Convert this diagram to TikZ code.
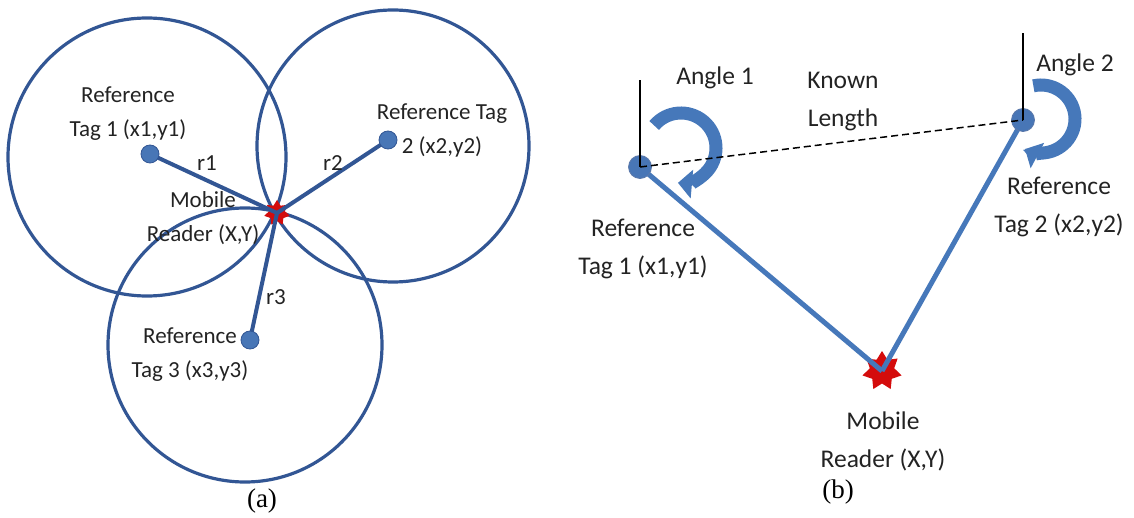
\documentclass[tikz,border=0pt]{standalone}
\usepackage{fontspec}
\setmainfont{Carlito}
\newfontfamily\capfont{Liberation Serif}
\usepackage{tikz}
\usetikzlibrary{shapes, arrows.meta, backgrounds, positioning}
\definecolor{ringblue}{RGB}{50,86,148}
\definecolor{tagblue}{RGB}{72,118,182}
\definecolor{barblue}{RGB}{70,120,186}
\definecolor{readerred}{RGB}{212,12,12}
\definecolor{txt}{RGB}{35,35,35}
\tikzstyle{rangecircle} = [draw=ringblue, line width=3.2pt]
\tikzstyle{radial} = [draw=ringblue, line width=4pt]
\tikzstyle{tagA} = [circle, fill=tagblue, draw=ringblue, line width=0.8pt, minimum size=18pt, inner sep=0pt]
\tikzstyle{tagB} = [circle, fill=tagblue, draw=ringblue!80, line width=0.8pt, minimum size=23pt, inner sep=0pt]
\tikzstyle{reader} = [star, star points=7, star point ratio=1.6, fill=readerred, inner sep=0pt]
\tikzstyle{lblA} = [align=center, text=txt, font=\fontsize{23}{34}\selectfont]
\tikzstyle{lblB} = [align=center, text=txt, font=\fontsize{25.5}{38}\selectfont]
\tikzstyle{caption} = [text=black, font=\capfont\fontsize{27}{32}\selectfont]
\tikzstyle{leg} = [draw=barblue, line width=5pt]
\tikzstyle{sweep} = [draw=barblue, line width=13pt, -{Triangle[width=28pt,length=14pt]}]
\tikzstyle{bearing} = [draw=black, line width=1.2pt]
\tikzstyle{chord} = [draw=black, line width=1.5pt, dash pattern=on 7pt off 4pt]

\begin{document}
\begin{tikzpicture}[x=1pt, y=-1pt]
	\useasboundingbox (0,0) rectangle (1134,518);

	\node (tagA1) [tagA] at (150,154) {};
	\node (tagA2) [tagA] at (388,140) {};
	\node (tagA3) [tagA] at (250,340) {};

	\begin{scope}[on background layer]
		\draw [rangecircle] (147,157) circle [radius=139];
		\draw [rangecircle] (393,146) circle [radius=136];
		\draw [rangecircle] (245,345) circle [radius=137];
		\node (readerA) [reader, minimum size=26pt] at (277,213) {};
		\draw [radial] (tagA1.center) -- (readerA.center);
		\draw [radial] (tagA2.center) -- (readerA.center);
		\draw [radial] (tagA3.center) -- (readerA.center);
	\end{scope}

	\node (labA1) [lblA] at (128,114) {Reference\\Tag 1 (x1,y1)};
	\node (labA2) [lblA] at (442,130) {Reference Tag\\2 (x2,y2)};
	\node (labA3) [lblA] at (190,355) {Reference\\Tag 3 (x3,y3)};
	\node (labAR) [lblA] at (203,218) {Mobile\\Reader (X,Y)};
	\node (r1) [lblA] at (207,163) {r1};
	\node (r2) [lblA] at (333,163) {r2};
	\node (r3) [lblA] at (276,297) {r3};
	\node (capA) [caption] at (262,501) {(a)};

	\node (tagB1) [tagB] at (640,167) {};
	\node (tagB2) [tagB] at (1023,120) {};
	\coordinate (turn1) at (681,148);
	\coordinate (turn2) at (1041,119);
	\coordinate (up1) at (640,80);
	\coordinate (up2) at (1023,33);

	\begin{scope}[on background layer]
		\node (readerB) [reader, minimum size=40pt] at (882,371) {};
		\draw [leg] (tagB1.center) -- (readerB.center);
		\draw [leg] (tagB2.center) -- (readerB.center);
		\draw [sweep] (turn1) ++(-140:35) arc [start angle=-140, end angle=95, radius=35];
		\draw [sweep] (turn2) ++(-103:34) arc [start angle=-103, end angle=118, radius=34];
	\end{scope}

	\draw [chord] (tagB1.center) -- (tagB2.center);
	\draw [bearing] (tagB1.center) -- (up1);
	\draw [bearing] (tagB2.center) -- (up2);

	\node (ang1) [lblB] at (715,78) {Angle 1};
	\node (ang2) [lblB] at (1075,65) {Angle 2};
	\node (known) [lblB] at (843,102) {Known\\Length};
	\node (labB1) [lblB] at (643,249) {Reference\\Tag 1 (x1,y1)};
	\node (labB2) [lblB] at (1059,207) {Reference\\Tag 2 (x2,y2)};
	\node (labBR) [lblB] at (883,441) {Mobile\\Reader (X,Y)};
	\node (capB) [caption] at (838,492) {(b)};
\end{tikzpicture}
\end{document}
